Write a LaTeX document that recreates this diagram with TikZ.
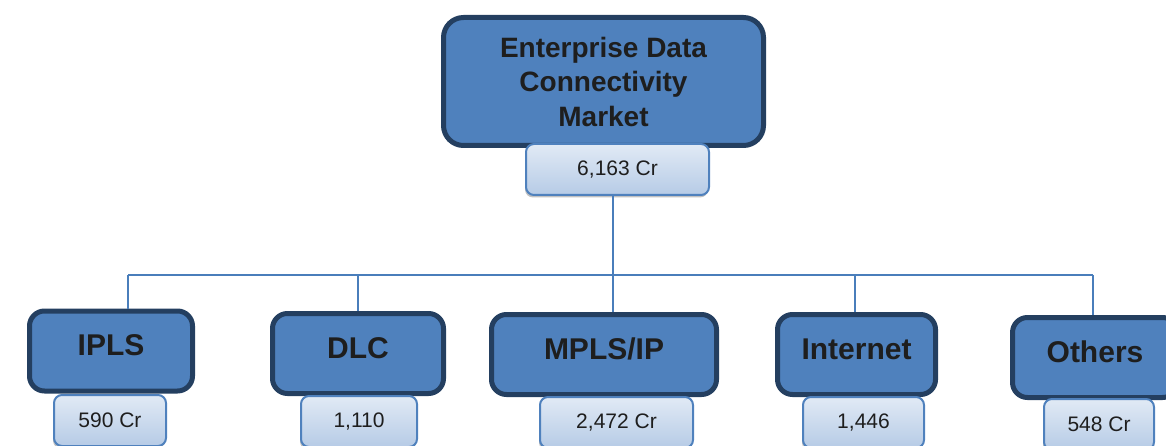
\documentclass[tikz,border=0pt]{standalone}
\usepackage{fontspec}
\setmainfont{Liberation Sans}
\usepackage{tikz}
\usetikzlibrary{positioning,shadows}

\definecolor{boxfill}{HTML}{4F81BD}
\definecolor{boxline}{HTML}{243F60}
\definecolor{valtop}{HTML}{E1EAF5}
\definecolor{valbot}{HTML}{B6CBE6}
\definecolor{linkblue}{HTML}{4A7EBB}
\definecolor{inktext}{HTML}{1E1E1E}

\begin{document}
\begin{tikzpicture}[
    x=1pt, y=-1pt,
    mainbox/.style={rectangle, draw=boxline, line width=5pt, fill=boxfill,
                    rounded corners=20pt, inner sep=0pt, align=center,
                    text=inktext, font=\fontsize{28}{34.5}\selectfont\bfseries},
    catbox/.style={rectangle, draw=boxline, line width=5pt, fill=boxfill,
                   rounded corners=15pt, inner sep=0pt, minimum height=80pt,
                   text height=22pt, text depth=12.6pt, text=inktext,
                   font=\fontsize{30}{36}\selectfont\bfseries},
    valbox/.style={rectangle, draw=boxfill, line width=2pt,
                   top color=valtop, bottom color=valbot, rounded corners=8pt,
                   inner sep=0pt, minimum height=51pt, text=inktext,
                   font=\fontsize{21}{25}\selectfont,
                   drop shadow={shadow xshift=-1pt, shadow yshift=-2.5pt,
                                fill=black!30, opacity=0.8}},
    link/.style={draw=linkblue, line width=2pt},
  ]
  \useasboundingbox (0,0) rectangle (1166,446);

  % tree connectors (hub and bus joints)
  \coordinate (hub) at (613,275);
  \coordinate (jipls) at (128,275);
  \coordinate (jdlc) at (358,275);
  \coordinate (jmpls) at (613,275);
  \coordinate (jnet) at (855,275);
  \coordinate (joth) at (1093,275);

  % market total
  \node[mainbox, minimum width=320pt, minimum height=128pt] (market) at (603.5,81.5)
    {Enterprise Data\\Connectivity\\Market};

  % segments
  \node[catbox, minimum width=163pt] (ipls) at (111,351) {IPLS};
  \node[catbox, minimum width=171pt] (dlc) at (358,353.5) {DLC};
  \node[catbox, minimum width=225pt] (mpls) at (604,354.5) {MPLS/IP};
  \node[catbox, minimum width=158pt] (net) at (856.5,354.5) {Internet};
  \node[catbox, minimum width=165pt] (oth) at (1095,357.5) {Others};

  % values
  \node[valbox, minimum width=183pt] (vmarket) at (617.5,169.5) {6,163 Cr};
  \node[valbox, minimum width=112pt] (vipls) at (110,420.5) {590 Cr};
  \node[valbox, minimum width=116pt] (vdlc) at (359,421.5) {1,110};
  \node[valbox, minimum width=153pt] (vmpls) at (616.5,422.5) {2,472 Cr};
  \node[valbox, minimum width=121pt] (vnet) at (863.5,422.5) {1,446};
  \node[valbox, minimum width=110pt] (voth) at (1099,424.5) {548 Cr};

  \draw[link] (hub |- vmarket.south) -- (hub);
  \draw[link] (jipls) -- (joth);
  \foreach \j/\n in {jipls/ipls, jdlc/dlc, jmpls/mpls, jnet/net, joth/oth}
    \draw[link] (\j) -- (\j |- \n.north);
\end{tikzpicture}
\end{document}
